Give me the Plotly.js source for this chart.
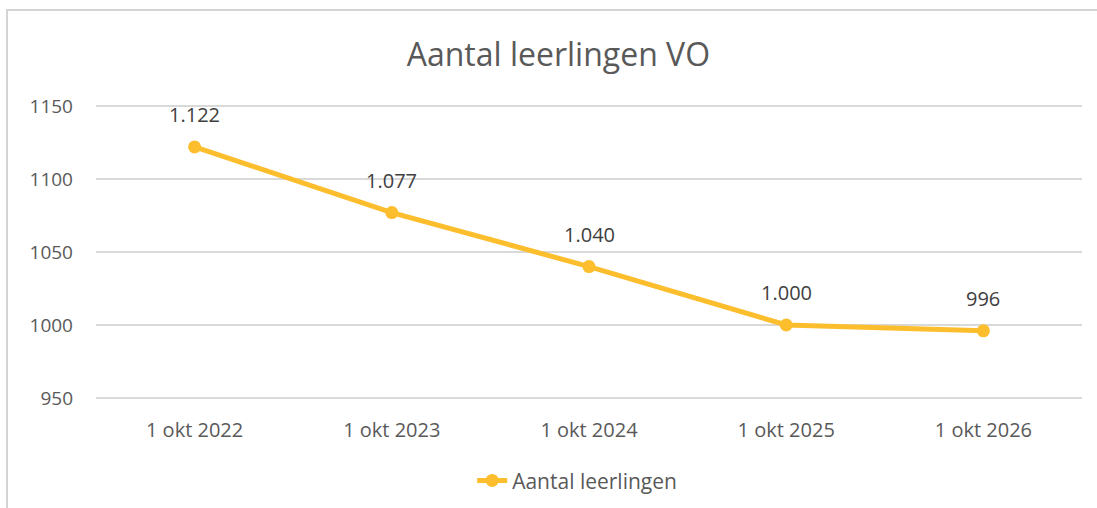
<!DOCTYPE html>
<html><head><meta charset="utf-8">
<script src="https://cdn.plot.ly/plotly-3.0.1.min.js"></script>
<style>
html,body{margin:0;padding:0;background:#fff;}
#wrap{position:relative;width:1097px;height:508px;}
#frame{position:absolute;left:6px;top:9px;width:1091px;height:499px;border-top:2px solid #d4d4d4;border-left:2px solid #d4d4d4;box-sizing:border-box;pointer-events:none;z-index:5;}
#chart{position:absolute;left:0;top:0;width:1097px;height:508px;}
</style></head>
<body><div id="wrap"><div id="chart"></div><div id="frame"></div></div>
<script>
const categories = ["1 okt 2022","1 okt 2023","1 okt 2024","1 okt 2025","1 okt 2026"];
const values = [1122, 1077, 1040, 1000, 996];
const valueLabels = ["1.122","1.077","1.040","1.000","996"];
const yTicks = [950, 1000, 1050, 1100, 1150];
const seriesName = "Aantal leerlingen";
const color = "#FCBE2C";

const trace = {
  type: "scatter", mode: "lines+markers",
  x: categories, y: values, name: seriesName,
  line: {color: color, width: 5},
  marker: {color: color, size: 13},
  hoverinfo: "skip"
};
const annotations = categories.map((c, i) => ({
  x: c, y: values[i], text: valueLabels[i], showarrow: false,
  yshift: 32, font: {family: "Open Sans, sans-serif", size: 20, color: "#404040"}
}));
const layout = {
  width: 1097, height: 508,
  margin: {l: 96, r: 15, t: 105, b: 109, autoexpand: false},
  paper_bgcolor: "#fff", plot_bgcolor: "#fff",
  title: {text: "Aantal leerlingen VO", x: 0.509, xanchor: "center", y: 0.893, yanchor: "middle",
    xref: "container", yref: "container",
    font: {family: "Open Sans, sans-serif", size: 32, color: "#595959"}},
  xaxis: {type: "category", range: [-0.5, 4.5], showgrid: false, zeroline: false, showline: false,
    ticks: "", ticklabelstandoff: 17,
    tickfont: {family: "Open Sans, sans-serif", size: 20, color: "#595959"}},
  yaxis: {range: [949.3, 1150.7], tickvals: yTicks, ticktext: yTicks.map(String),
    showgrid: true, gridcolor: "#d9d9d9", gridwidth: 2, zeroline: false, showline: false,
    ticks: "", ticklabelstandoff: 22,
    tickfont: {family: "Open Sans, sans-serif", size: 19, color: "#595959"}},
  showlegend: true,
  legend: {orientation: "h", x: 0.488, xanchor: "center", y: -0.278, yanchor: "middle",
    font: {family: "Open Sans, sans-serif", size: 21, color: "#595959"}},
  annotations: annotations
};
Plotly.newPlot("chart", [trace], layout, {displayModeBar: false, staticPlot: true});
</script></body></html>
